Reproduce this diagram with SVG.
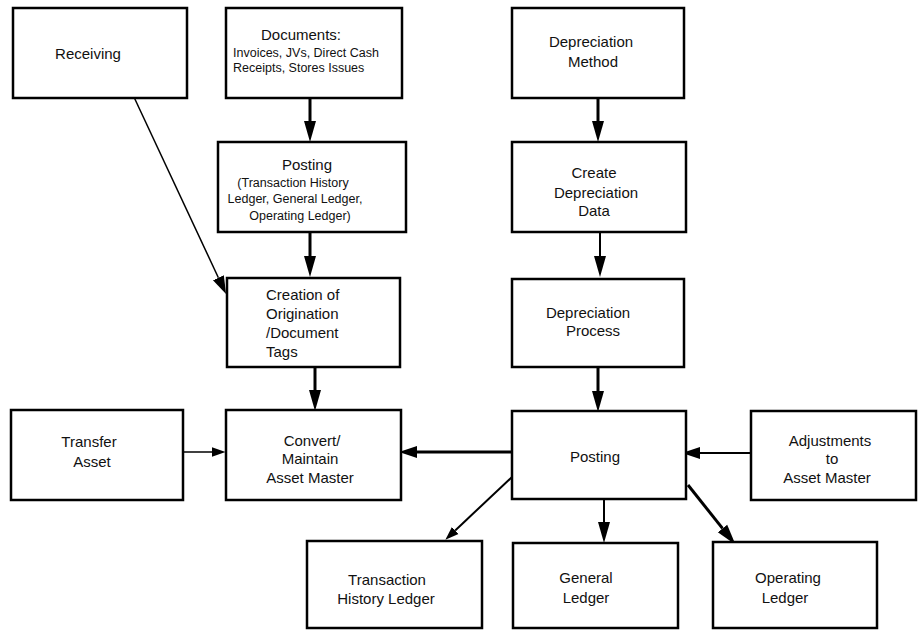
<svg xmlns="http://www.w3.org/2000/svg" width="918" height="630" viewBox="0 0 918 630">
<style>
.box{fill:#fff;stroke:#000;stroke-width:2.5}
.t{font-family:"Liberation Sans",Arial,sans-serif;font-size:15px;fill:#111}
.s{font-family:"Liberation Sans",Arial,sans-serif;font-size:12.5px;fill:#111}
.c{text-anchor:middle}
.thick{stroke:#000;stroke-width:3;fill:none}
.mid{stroke:#000;stroke-width:2;fill:none}
.thin{stroke:#000;stroke-width:1.5;fill:none}
</style>
<defs>
<marker id="ahL" markerUnits="userSpaceOnUse" viewBox="0 -7 22 14" markerWidth="22" markerHeight="14" refX="0" refY="0" orient="auto"><path d="M0,-6 L21,0 L0,6 z" fill="#000"/></marker>
<marker id="ahM" markerUnits="userSpaceOnUse" viewBox="0 -7 19 14" markerWidth="19" markerHeight="14" refX="0" refY="0" orient="auto"><path d="M0,-6 L18,0 L0,6 z" fill="#000"/></marker>
<marker id="ahS" markerUnits="userSpaceOnUse" viewBox="0 -6 14 12" markerWidth="14" markerHeight="12" refX="0" refY="0" orient="auto"><path d="M0,-4.8 L13.5,0 L0,4.8 z" fill="#000"/></marker>
</defs>
<g id="connectors">
<line class="thick" x1="310" y1="98" x2="310" y2="121" marker-end="url(#ahL)"/>
<line class="thick" x1="310" y1="232" x2="310" y2="256" marker-end="url(#ahL)"/>
<line class="thick" x1="315" y1="367" x2="315" y2="390" marker-end="url(#ahL)"/>
<line class="thin" x1="133" y1="95" x2="218.4" y2="277.7" marker-end="url(#ahM)"/>
<line class="thick" x1="598" y1="98" x2="598" y2="121" marker-end="url(#ahL)"/>
<line class="mid" x1="600" y1="232" x2="600" y2="256" marker-end="url(#ahL)"/>
<line class="thick" x1="598" y1="367" x2="598" y2="391" marker-end="url(#ahL)"/>
<line class="thick" x1="512" y1="452" x2="417" y2="452" marker-end="url(#ahM)"/>
<line class="thin" x1="183" y1="452" x2="212" y2="452" marker-end="url(#ahS)"/>
<line class="mid" x1="751" y1="453" x2="700" y2="453" marker-end="url(#ahM)"/>
<line class="mid" x1="604" y1="499" x2="604" y2="522" marker-end="url(#ahL)"/>
<line class="mid" x1="512" y1="477" x2="455.2" y2="530.4" marker-end="url(#ahS)"/>
<line class="thick" x1="688" y1="485" x2="722.5" y2="528.4" marker-end="url(#ahL)"/>
</g>
<g id="receiving"><rect class="box" x="13" y="8" width="174" height="90"/><text class="t c" x="88" y="59">Receiving</text></g>
<g id="documents"><rect class="box" x="226" y="8" width="176" height="90"/><text class="t c" x="301" y="40">Documents:</text><text class="s" x="233" y="57">Invoices, JVs, Direct Cash</text><text class="s" x="233" y="72">Receipts, Stores Issues</text></g>
<g id="depreciation-method"><rect class="box" x="512" y="8" width="172" height="90"/><text class="t c" x="591" y="47">Depreciation</text><text class="t c" x="593" y="67">Method</text></g>
<g id="posting-ledgers"><rect class="box" x="218" y="142" width="188" height="90"/><text class="t c" x="307" y="170">Posting</text><text class="s c" x="293" y="187">(Transaction History</text><text class="s c" x="295" y="203">Ledger, General Ledger,</text><text class="s c" x="300" y="220">Operating Ledger)</text></g>
<g id="create-depreciation-data"><rect class="box" x="512" y="142" width="174" height="90"/><text class="t c" x="594" y="178">Create</text><text class="t c" x="596" y="198">Depreciation</text><text class="t c" x="594" y="216">Data</text></g>
<g id="creation-tags"><rect class="box" x="227" y="278" width="173" height="89" stroke-width="3"/><text class="t" x="266" y="300">Creation of</text><text class="t" x="266" y="319">Origination</text><text class="t" x="266" y="338">/Document</text><text class="t" x="266" y="357">Tags</text></g>
<g id="depreciation-process"><rect class="box" x="512" y="279" width="172" height="88"/><text class="t c" x="588" y="318">Depreciation</text><text class="t c" x="593" y="336">Process</text></g>
<g id="transfer-asset"><rect class="box" x="11" y="410" width="172" height="90"/><text class="t c" x="89" y="447">Transfer</text><text class="t c" x="92" y="467">Asset</text></g>
<g id="convert-maintain"><rect class="box" x="226" y="410" width="175" height="90" stroke-width="3"/><text class="t c" x="312" y="446">Convert/</text><text class="t c" x="310" y="464">Maintain</text><text class="t c" x="310" y="483">Asset Master</text></g>
<g id="posting"><rect class="box" x="512" y="411" width="174" height="88" stroke-width="3"/><text class="t c" x="595" y="462">Posting</text></g>
<g id="adjustments"><rect class="box" x="751" y="411" width="165" height="89"/><text class="t c" x="830" y="446">Adjustments</text><text class="t c" x="832" y="464">to</text><text class="t c" x="827" y="483">Asset Master</text></g>
<g id="transaction-history-ledger"><rect class="box" x="307" y="541" width="175" height="87"/><text class="t c" x="387" y="585">Transaction</text><text class="t c" x="386" y="604">History Ledger</text></g>
<g id="general-ledger"><rect class="box" x="513" y="543" width="165" height="85"/><text class="t c" x="586" y="583">General</text><text class="t c" x="586" y="603">Ledger</text></g>
<g id="operating-ledger"><rect class="box" x="713" y="542" width="164" height="86"/><text class="t c" x="788" y="583">Operating</text><text class="t c" x="785" y="603">Ledger</text></g>
</svg>
